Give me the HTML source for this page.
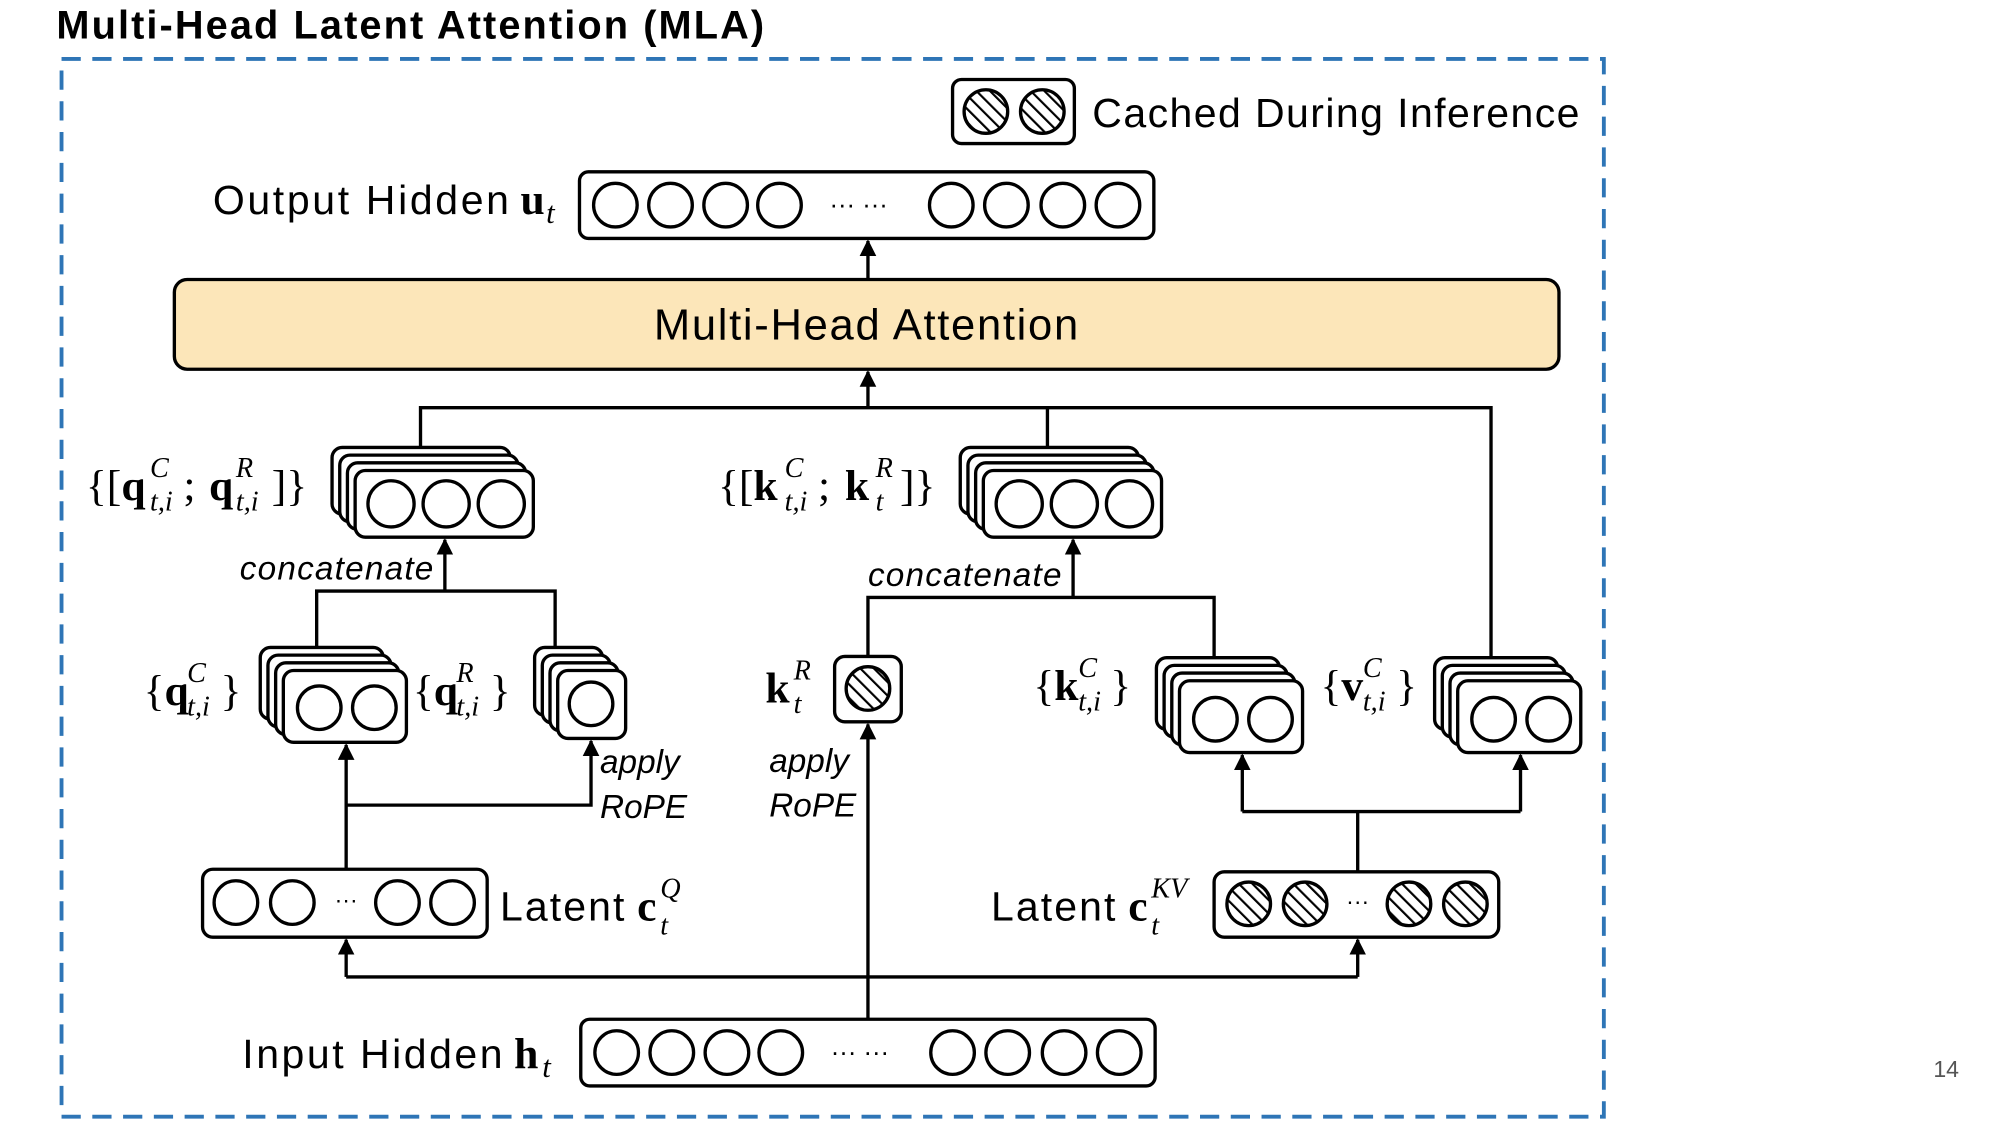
<!DOCTYPE html>
<html><head><meta charset="utf-8"><style>
html,body{margin:0;padding:0;background:#fff;width:2000px;height:1125px;overflow:hidden}
svg{display:block}
.s{font-family:"Liberation Sans",sans-serif}
.m{font-family:"Liberation Serif",serif}
</style></head><body>
<svg width="2000" height="1125" viewBox="0 0 1560 877.5" xmlns="http://www.w3.org/2000/svg">
<defs>
<pattern id="h" patternUnits="userSpaceOnUse" width="7.5" height="7.5" patternTransform="rotate(-45)">
<rect width="7.5" height="7.5" fill="#fff"/><line x1="0" y1="0" x2="0" y2="7.5" stroke="#000" stroke-width="3.4"/>
</pattern>
<marker id="a" viewBox="0 0 10 10" refX="9" refY="5" markerWidth="5" markerHeight="5" orient="auto"><path d="M0,0L10,5L0,10z" fill="#000"/></marker>
</defs>
<rect width="1560" height="877.5" fill="#fff"/>
<text x="44" y="30" class="s" font-size="31" font-weight="bold" textLength="552">Multi-Head Latent Attention (MLA)</text>
<rect x="48" y="46" width="1203" height="825" fill="none" stroke="#2e75b6" stroke-width="3" stroke-dasharray="15,9"/>
<text x="1508" y="840" class="s" font-size="18" fill="#555">14</text>

<g fill="none" stroke="#000" stroke-width="2.6">
<rect x="743" y="62" width="95" height="50" rx="7"/>
<circle cx="769" cy="87" r="17" fill="url(#h)"/><circle cx="813" cy="87" r="17" fill="url(#h)"/>
<rect x="452" y="134" width="448" height="52" rx="7"/>
<circle cx="480" cy="160" r="17"/><circle cx="523" cy="160" r="17"/><circle cx="566" cy="160" r="17"/><circle cx="608" cy="160" r="17"/>
<circle cx="742" cy="160" r="17"/><circle cx="785" cy="160" r="17"/><circle cx="829" cy="160" r="17"/><circle cx="872" cy="160" r="17"/>
<rect x="453" y="795" width="448" height="52" rx="7"/>
<circle cx="481" cy="821" r="17"/><circle cx="524" cy="821" r="17"/><circle cx="567" cy="821" r="17"/><circle cx="609" cy="821" r="17"/>
<circle cx="743" cy="821" r="17"/><circle cx="786" cy="821" r="17"/><circle cx="830" cy="821" r="17"/><circle cx="873" cy="821" r="17"/>
<rect x="136" y="218" width="1080" height="70" rx="10" fill="#fce6b9"/>
<line x1="677" y1="218" x2="677" y2="188" marker-end="url(#a)"/>
<line x1="677" y1="318" x2="677" y2="290" marker-end="url(#a)"/>
<polyline points="328,349 328,318 1163,318 1163,514"/>
<line x1="817" y1="318" x2="817" y2="349"/>
<polyline points="247,505 247,461 433,461 433,505"/>
<line x1="347" y1="461" x2="347" y2="421" marker-end="url(#a)"/>
<polyline points="677,512 677,466 947,466 947,514"/>
<line x1="837" y1="466" x2="837" y2="421" marker-end="url(#a)"/>
<line x1="270" y1="678" x2="270" y2="581" marker-end="url(#a)"/>
<polyline points="270,628 461,628 461,578" marker-end="url(#a)"/>
<line x1="677" y1="795" x2="677" y2="565" marker-end="url(#a)"/>
<polyline points="270,762 1059,762"/>
<line x1="270" y1="762" x2="270" y2="733" marker-end="url(#a)"/>
<line x1="1059" y1="762" x2="1059" y2="733" marker-end="url(#a)"/>
<line x1="1059" y1="680" x2="1059" y2="633"/>
<polyline points="969,633 1186,633"/>
<line x1="969" y1="633" x2="969" y2="589" marker-end="url(#a)"/>
<line x1="1186" y1="633" x2="1186" y2="589" marker-end="url(#a)"/>
</g>

<g fill="#fff" stroke="#000" stroke-width="2.6">
<rect x="259" y="349" width="139" height="52" rx="8"/><rect x="265" y="355" width="139" height="52" rx="8"/><rect x="271" y="361" width="139" height="52" rx="8"/><rect x="277" y="367" width="139" height="52" rx="8"/>
<circle cx="305" cy="393" r="18"/><circle cx="348" cy="393" r="18"/><circle cx="391" cy="393" r="18"/>
<rect x="749" y="349" width="139" height="52" rx="8"/><rect x="755" y="355" width="139" height="52" rx="8"/><rect x="761" y="361" width="139" height="52" rx="8"/><rect x="767" y="367" width="139" height="52" rx="8"/>
<circle cx="795" cy="393" r="18"/><circle cx="838" cy="393" r="18"/><circle cx="881" cy="393" r="18"/>
<rect x="203" y="505" width="96" height="56" rx="8"/><rect x="209" y="511" width="96" height="56" rx="8"/><rect x="215" y="517" width="96" height="56" rx="8"/><rect x="221" y="523" width="96" height="56" rx="8"/>
<circle cx="249" cy="552" r="17"/><circle cx="292" cy="552" r="17"/>
<rect x="417" y="505" width="53" height="53" rx="8"/><rect x="423" y="511" width="53" height="53" rx="8"/><rect x="429" y="517" width="53" height="53" rx="8"/><rect x="435" y="523" width="53" height="53" rx="8"/>
<circle cx="461" cy="549" r="17"/>
<rect x="651" y="512" width="52" height="51" rx="8"/>
<circle cx="677" cy="537" r="17" fill="url(#h)"/>
<rect x="902" y="513" width="96" height="56" rx="8"/><rect x="908" y="519" width="96" height="56" rx="8"/><rect x="914" y="525" width="96" height="56" rx="8"/><rect x="920" y="531" width="96" height="56" rx="8"/>
<circle cx="948" cy="561" r="17"/><circle cx="991" cy="561" r="17"/>
<rect x="1119" y="513" width="96" height="56" rx="8"/><rect x="1125" y="519" width="96" height="56" rx="8"/><rect x="1131" y="525" width="96" height="56" rx="8"/><rect x="1137" y="531" width="96" height="56" rx="8"/>
<circle cx="1165" cy="561" r="17"/><circle cx="1208" cy="561" r="17"/>
<rect x="158" y="678" width="222" height="53" rx="8"/>
<circle cx="184" cy="704" r="17"/><circle cx="228" cy="704" r="17"/><circle cx="310" cy="704" r="17"/><circle cx="353" cy="704" r="17"/>
<rect x="947" y="680" width="222" height="51" rx="8"/>
<circle cx="974" cy="705" r="17" fill="url(#h)"/><circle cx="1018" cy="705" r="17" fill="url(#h)"/><circle cx="1099" cy="705" r="17" fill="url(#h)"/><circle cx="1143" cy="705" r="17" fill="url(#h)"/>
</g>

<g class="s" font-size="32" fill="#000">
<text x="852" y="99" textLength="380">Cached During Inference</text>
<text x="166" y="167" textLength="231">Output Hidden</text>
<text x="510" y="265" font-size="34" textLength="331">Multi-Head Attention</text>
<text x="189" y="833" textLength="203">Input Hidden</text>
<text x="390" y="718" textLength="97">Latent</text>
<text x="773" y="718" textLength="97">Latent</text>
<text x="647" y="166" font-size="20">··· ···</text>
<text x="648" y="827" font-size="20">··· ···</text>
<text x="261" y="708" font-size="18">···</text>
<text x="1050" y="709" font-size="18">···</text>
</g>
<g class="s" font-size="26" font-style="italic">
<text x="187" y="452" textLength="151">concatenate</text>
<text x="677" y="457" textLength="151">concatenate</text>
<text x="468" y="603">apply</text><text x="468" y="638">RoPE</text>
<text x="600" y="602">apply</text><text x="600" y="637">RoPE</text>
</g>
<g class="m" font-size="34">
<text x="406" y="167" font-weight="bold">u</text><text x="426" y="174" font-style="italic" font-size="24">t</text>
<text x="401" y="833" font-weight="bold">h</text><text x="423" y="840" font-style="italic" font-size="24">t</text>
<text x="497" y="718" font-weight="bold">c</text>
<text x="515" y="700" font-style="italic" font-size="22">Q</text><text x="515" y="729" font-style="italic" font-size="22">t</text>
<text x="880" y="718" font-weight="bold">c</text>
<text x="898" y="700" font-style="italic" font-size="22">KV</text><text x="898" y="729" font-style="italic" font-size="22">t</text>

<text x="67" y="390">{[<tspan font-weight="bold">q</tspan></text>
<text x="117" y="372" font-style="italic" font-size="22">C</text><text x="117" y="398" font-style="italic" font-size="22">t,i</text>
<text x="143" y="390">;</text><text x="163" y="390" font-weight="bold">q</text>
<text x="184" y="372" font-style="italic" font-size="22">R</text><text x="184" y="398" font-style="italic" font-size="22">t,i</text>
<text x="212" y="390">]}</text>

<text x="560" y="390">{[<tspan font-weight="bold">k</tspan></text>
<text x="612" y="372" font-style="italic" font-size="22">C</text><text x="612" y="398" font-style="italic" font-size="22">t,i</text>
<text x="638" y="390">;</text><text x="659" y="390" font-weight="bold">k</text>
<text x="683" y="372" font-style="italic" font-size="22">R</text><text x="683" y="398" font-style="italic" font-size="22">t</text>
<text x="702" y="390">]}</text>

<text x="112" y="550">{<tspan font-weight="bold">q</tspan></text>
<text x="146" y="532" font-style="italic" font-size="22">C</text><text x="146" y="558" font-style="italic" font-size="22">t,i</text>
<text x="172" y="550">}</text>

<text x="322" y="550">{<tspan font-weight="bold">q</tspan></text>
<text x="356" y="532" font-style="italic" font-size="22">R</text><text x="356" y="558" font-style="italic" font-size="22">t,i</text>
<text x="382" y="550">}</text>

<text x="597" y="548" font-weight="bold">k</text>
<text x="619" y="530" font-style="italic" font-size="22">R</text><text x="619" y="556" font-style="italic" font-size="22">t</text>

<text x="806" y="546">{<tspan font-weight="bold">k</tspan></text>
<text x="841" y="528" font-style="italic" font-size="22">C</text><text x="841" y="554" font-style="italic" font-size="22">t,i</text>
<text x="866" y="546">}</text>

<text x="1030" y="546">{<tspan font-weight="bold">v</tspan></text>
<text x="1063" y="528" font-style="italic" font-size="22">C</text><text x="1063" y="554" font-style="italic" font-size="22">t,i</text>
<text x="1089" y="546">}</text>
</g>
</svg>
</body></html>
